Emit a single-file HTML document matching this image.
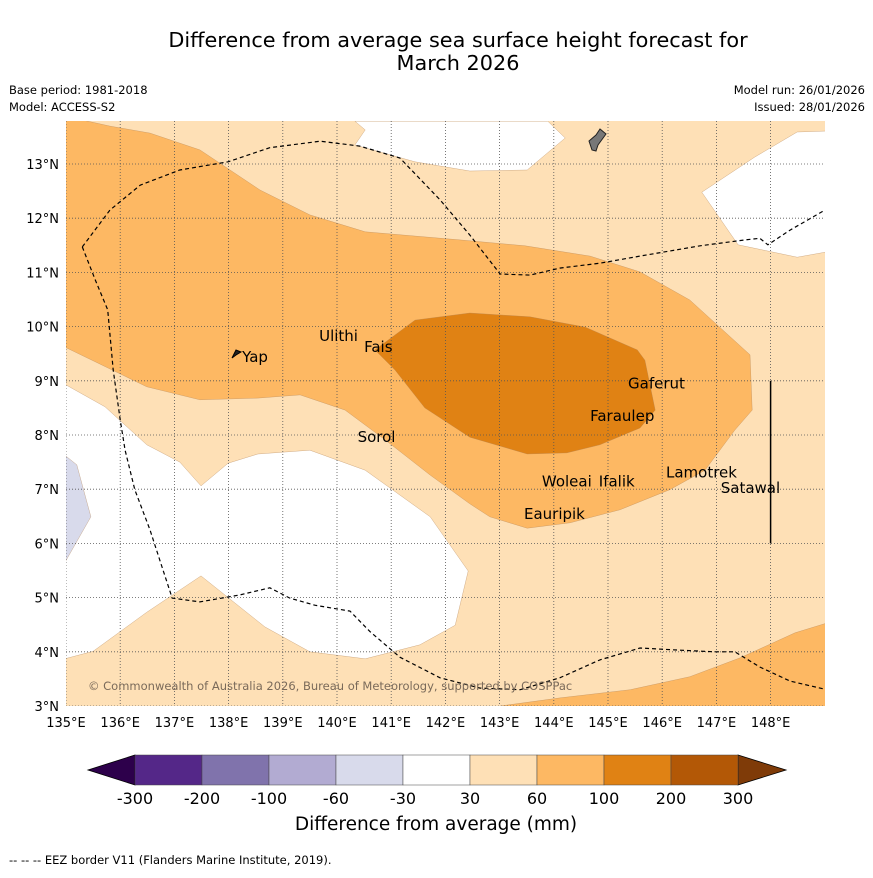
<!DOCTYPE html>
<html><head><meta charset="utf-8"><style>
body{margin:0;background:#fff;font-family:"Liberation Sans","DejaVu Sans",sans-serif}
svg text{font-family:"DejaVu Sans","Liberation Sans",sans-serif}
</style></head><body>
<svg id="c" width="873" height="873" viewBox="0 0 873 873" xmlns="http://www.w3.org/2000/svg">
<rect width="873" height="873" fill="#fff"/>
<text x="458" y="47" font-size="20.8" text-anchor="middle">Difference from average sea surface height forecast for</text>
<text x="458" y="70" font-size="20.8" text-anchor="middle">March 2026</text>
<text x="9" y="94" font-size="11.5">Base period: 1981-2018</text>
<text x="9" y="111" font-size="11.5">Model: ACCESS-S2</text>
<text x="865" y="94" font-size="11.5" text-anchor="end">Model run: 26/01/2026</text>
<text x="865" y="111" font-size="11.5" text-anchor="end">Issued: 28/01/2026</text>
<defs><clipPath id="mc"><rect x="66" y="121" width="759" height="585"/></clipPath></defs>
<g id="map" clip-path="url(#mc)"></g>
<g id="ax"></g>
<g id="cb"></g>
<text x="436" y="830" font-size="18.5" text-anchor="middle">Difference from average (mm)</text>
<text x="9" y="864" font-size="11.5">--  --  -- EEZ border V11 (Flanders Marine Institute, 2019).</text>
</svg>
<script>
const lonTicks=[135,136,137,138,139,140,141,142,143,144,145,146,147,148];
const latTicks=[3,4,5,6,7,8,9,10,11,12,13];
const cbLabels=["-300","-200","-100","-60","-30","30","60","100","200","300"];
const cbColors=["#542788","#8073ac","#b2abd2","#d8daeb","#ffffff","#fee0b6","#fdb863","#e08214","#b35806"];
const regionLight=[[134,2],[150,2],[150,15],[134,15]];
const regionWhiteTop=[[140.33,13.79],[140.52,13.63],[140.33,13.35],[141.44,13.04],[142.45,12.87],[143.51,12.89],[144.21,13.48],[143.89,13.79]];
const regionWhiteRight=[[149.1,13.61],[148.49,13.59],[147.71,13.13],[146.73,12.48],[147.40,11.51],[148.49,11.28],[149.1,11.39]];
const regionWhiteLeft=[[134.9,8.98],[135.72,8.52],[136.49,7.82],[137.10,7.50],[137.49,7.06],[137.99,7.48],[138.54,7.65],[139.50,7.72],[140.52,7.35],[141.72,6.49],[142.42,5.49],[142.18,4.49],[141.53,4.13],[140.52,3.87],[139.50,4.00],[138.67,4.46],[137.49,5.40],[136.49,4.73],[135.50,4.01],[134.9,3.85]];
const regionPurple=[[134.9,7.69],[135.20,7.45],[135.46,6.49],[134.9,5.51]];
const regionMedium=[[134.9,13.9],[135.81,13.70],[136.55,13.57],[137.47,13.26],[138.58,12.52],[139.50,12.06],[140.52,11.75],[142.27,11.60],[143.47,11.49],[144.67,11.30],[145.59,11.01],[146.51,10.49],[147.62,9.48],[147.66,8.46],[147.34,8.09],[146.79,7.35],[146.14,6.99],[145.22,6.62],[144.30,6.38],[143.51,6.28],[142.82,6.49],[142.45,6.73],[141.72,7.26],[140.89,7.91],[140.15,8.46],[139.32,8.74],[138.54,8.68],[137.47,8.65],[136.49,8.89],[134.9,9.66]];
const regionMediumBR=[[143.01,2.9],[143.01,3.0],[144.11,3.15],[145.41,3.30],[146.51,3.54],[147.44,3.89],[148.45,4.35],[149.1,4.55],[149.1,2.9]];
const regionDark=[[140.70,9.57],[141.44,10.12],[142.45,10.25],[143.56,10.18],[144.58,9.99],[145.54,9.57],[145.68,9.38],[145.87,8.46],[145.59,8.13],[144.85,7.82],[144.24,7.67],[143.51,7.65],[142.45,7.96],[141.62,8.50],[141.07,9.20]];
const eezTop=[[135.30,11.47],[135.81,12.15],[136.37,12.61],[137.10,12.89],[137.99,13.04],[138.76,13.30],[139.69,13.42],[140.42,13.33],[141.16,13.11],[141.90,12.34],[142.45,11.69],[143.01,10.97],[143.56,10.95],[144.11,11.08],[144.85,11.17],[145.59,11.30],[146.70,11.49],[147.53,11.60],[147.80,11.63],[147.95,11.51],[148.36,11.78],[149.0,12.15]];
const eezBottom=[[135.30,11.47],[135.54,10.86],[135.77,10.31],[135.87,9.20],[136.00,8.28],[136.09,7.72],[136.27,6.99],[136.55,6.25],[136.79,5.51],[136.96,4.99],[137.47,4.92],[138.21,5.05],[138.76,5.18],[139.13,4.99],[139.59,4.86],[140.24,4.75],[140.61,4.37],[141.16,3.90],[141.90,3.52],[142.64,3.33],[143.38,3.30],[144.11,3.52],[144.85,3.85],[145.59,4.07],[146.33,4.03],[146.97,4.00],[147.34,4.00],[147.80,3.72],[148.36,3.46],[149.0,3.31]];
const places=[["Yap",138.25,9.35],["Ulithi",139.67,9.73],["Fais",140.5,9.53],["Gaferut",145.37,8.86],["Faraulep",144.67,8.26],["Sorol",140.38,7.87],["Woleai",143.78,7.05],["Ifalik",144.83,7.05],["Lamotrek",146.07,7.22],["Satawal",147.08,6.93],["Eauripik",143.45,6.45]];
const x=lon=>66+(lon-135)*54.2, y=lat=>706-(lat-3)*54.2;
const NS="http://www.w3.org/2000/svg";
function mk(t,a,p){const e=document.createElementNS(NS,t);for(const k in a)e.setAttribute(k,a[k]);p.appendChild(e);return e;}
const map=document.getElementById('map'),ax=document.getElementById('ax'),cb=document.getElementById('cb');
const pts=r=>r.map(p=>x(p[0]).toFixed(1)+","+y(p[1]).toFixed(1)).join(" ");
[[regionLight,"#fee0b6","region-30-60"],[regionWhiteTop,"#fff","region-neutral-top"],[regionWhiteRight,"#fff","region-neutral-right"],[regionWhiteLeft,"#fff","region-neutral-left"],[regionPurple,"#d8daeb","region-minus-30-60"],[regionMedium,"#fdb863","region-60-100"],[regionMediumBR,"#fdb863","region-60-100-south"],[regionDark,"#e08214","region-100-200"]].forEach(r=>{
 const e=mk('polygon',{points:pts(r[0]),fill:r[1],stroke:"#b08050","stroke-width":0.3},map);
 
 
});
lonTicks.forEach(l=>{const e=mk('line',{x1:x(l),x2:x(l),y1:121,y2:706,stroke:"#555","stroke-width":0.8,"stroke-dasharray":"1,2"},map);});
latTicks.forEach(l=>{const e=mk('line',{x1:66,x2:825,y1:y(l),y2:y(l),stroke:"#555","stroke-width":0.8,"stroke-dasharray":"1,2"},map);});
[eezTop,eezBottom].forEach(r=>{const e=mk('polyline',{points:pts(r),fill:"none",stroke:"#000","stroke-width":1.2,"stroke-dasharray":"4,3"},map);});
let g=mk('polygon',{points:"589,141 596,135 600,129 606,134 598,145 596,151 592,150",fill:"#777",stroke:"#222","stroke-width":1},map);


g=mk('polygon',{points:"232,358 236,350 241,352 236,355",fill:"#222",stroke:"#000","stroke-width":1},map);


g=mk('line',{x1:x(148),x2:x(148),y1:y(9),y2:y(6),stroke:"#000","stroke-width":1.5},map);


places.forEach(p=>{const t=mk('text',{x:x(p[1]),y:y(p[2]),"font-size":15},map);t.textContent=p[0];});
g=mk('text',{x:88,y:690,"font-size":11.5,fill:"#7a6a5a"},map);g.textContent="© Commonwealth of Australia 2026, Bureau of Meteorology, supported by COSPPac";


lonTicks.forEach(l=>{const t=mk('text',{x:x(l),y:727,"font-size":13,"text-anchor":"middle"},ax);t.textContent=l+"°E";});
latTicks.forEach(l=>{const t=mk('text',{x:59,y:y(l)+5,"font-size":13,"text-anchor":"end"},ax);t.textContent=l+"°N";});
const bw=(738-135)/cbColors.length;
g=mk('polygon',{points:"135,755 88,770 135,785",fill:"#2d004b",stroke:"#000","stroke-width":0.8},cb);


g=mk('polygon',{points:"738,755 786,770 738,785",fill:"#7f3b08",stroke:"#000","stroke-width":0.8},cb);


cbColors.forEach((c,i)=>{const r=mk('rect',{x:135+i*bw,y:755,width:bw,height:30,fill:c,stroke:"#444","stroke-width":0.5},cb);});
cbLabels.forEach((l,i)=>{const t=mk('text',{x:135+i*bw,y:804,"font-size":16,"text-anchor":"middle"},cb);t.textContent=l;});
</script>
</body></html>
